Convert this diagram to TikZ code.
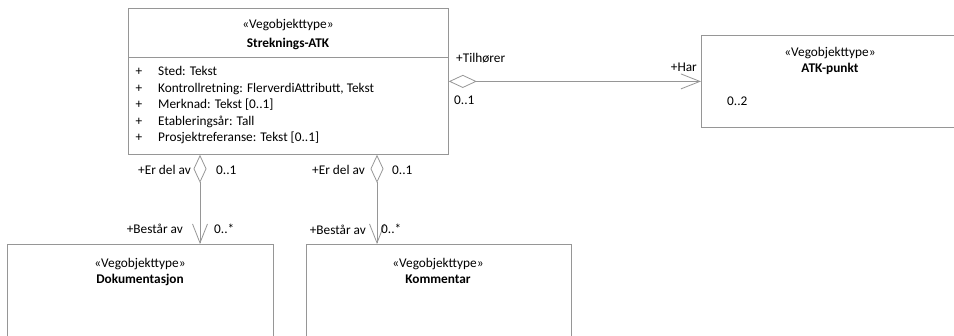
\documentclass[tikz,border=0pt]{standalone}
\usepackage{fontspec}
\setmainfont{Carlito}
\usetikzlibrary{arrows.meta}
\definecolor{linegray}{RGB}{150,150,150}
\tikzset{
  umlbox/.style={draw=linegray, line width=0.8pt, rectangle, inner sep=0pt, anchor=north west},
  lbl/.style={inner sep=0pt, font=\fontsize{13.3}{16}\selectfont},
  bl/.style={inner sep=0pt, font=\fontsize{13.3}{16}\selectfont\bfseries},
  assoc/.style={draw=linegray, line width=0.8pt,
    {Diamond[open,length=28pt,width=13pt]}-{Straight Barb[length=19pt,width=15pt]}},
}
\begin{document}
\begin{tikzpicture}[x=1pt,y=-1pt]
\useasboundingbox (0,0) rectangle (954,335);
\clip (0,0) rectangle (954,335);
% boxes
\node[umlbox, minimum width=320pt, minimum height=146pt] (main) at (128,8) {};
\node[umlbox, minimum width=260pt, minimum height=92pt] (atk) at (701,35) {};
\node[umlbox, minimum width=266pt, minimum height=120pt] (dok) at (7,244) {};
\node[umlbox, minimum width=265pt, minimum height=120pt] (komm) at (306,244) {};
\coordinate (divy) at (0,57);
\draw[linegray, line width=0.8pt] (main.west |- divy) -- (main.east |- divy);
% main texts
\node[lbl, anchor=base] (m1) at (288,28.5) {«Vegobjekttype»};
\node[bl, anchor=base] (m2) at (288,47.5) {Streknings-ATK};
\foreach \t [count=\i from 0] in {Sted: Tekst, {Kontrollretning: FlerverdiAttributt, Tekst}, {Merknad: Tekst [0..1]}, Etableringsår: Tall, {Prosjektreferanse: Tekst [0..1]}}{
  \node[lbl, anchor=base] (p\i) at (139,75.5+16.5*\i) {+};
  \node[lbl, anchor=base west] (a\i) at (158,75.5+16.5*\i) {\t};
}
% ATK-punkt texts
\node[lbl, anchor=base] (k1) at (830,56) {«Vegobjekttype»};
\node[bl, anchor=base] (k2) at (830,72.5) {ATK-punkt};
\node[lbl, anchor=base west] (k3) at (727,105) {0..2};
% Dokumentasjon
\node[lbl, anchor=base] (d1) at (140,267.5) {«Vegobjekttype»};
\node[bl, anchor=base] (d2) at (140,283) {Dokumentasjon};
% Kommentar
\node[lbl, anchor=base] (c1) at (438,267.5) {«Vegobjekttype»};
\node[bl, anchor=base] (c2) at (438,283) {Kommentar};
% connectors
\draw[assoc] (main.east) -- (atk.west |- main.east);
\coordinate (cx1) at (200,0);
\coordinate (cx2) at (377,0);
\draw[assoc] (main.south -| cx1) -- (dok.north -| cx1);
\draw[assoc] (main.south -| cx2) -- (komm.north -| cx2);
% connector labels
\node[lbl, anchor=base west] (l1) at (456,62.5) {+Tilhører};
\node[lbl, anchor=base west] (l2) at (454,104.5) {0..1};
\node[lbl, anchor=base east] (l3) at (697,71.5) {+Har};
\node[lbl, anchor=base east] (l4) at (191,174.5) {+Er del av};
\node[lbl, anchor=base west] (l5) at (216,174.5) {0..1};
\node[lbl, anchor=base east] (l6) at (183,233.5) {+Består av};
\node[lbl, anchor=base west] (l7) at (214,233.5) {0..*};
\node[lbl, anchor=base east] (l8) at (365,174.5) {+Er del av};
\node[lbl, anchor=base west] (l9) at (392,174.5) {0..1};
\node[lbl, anchor=base east] (l10) at (366,234.5) {+Består av};
\node[lbl, anchor=base west] (l11) at (381,233.5) {0..*};
\end{tikzpicture}
\end{document}
